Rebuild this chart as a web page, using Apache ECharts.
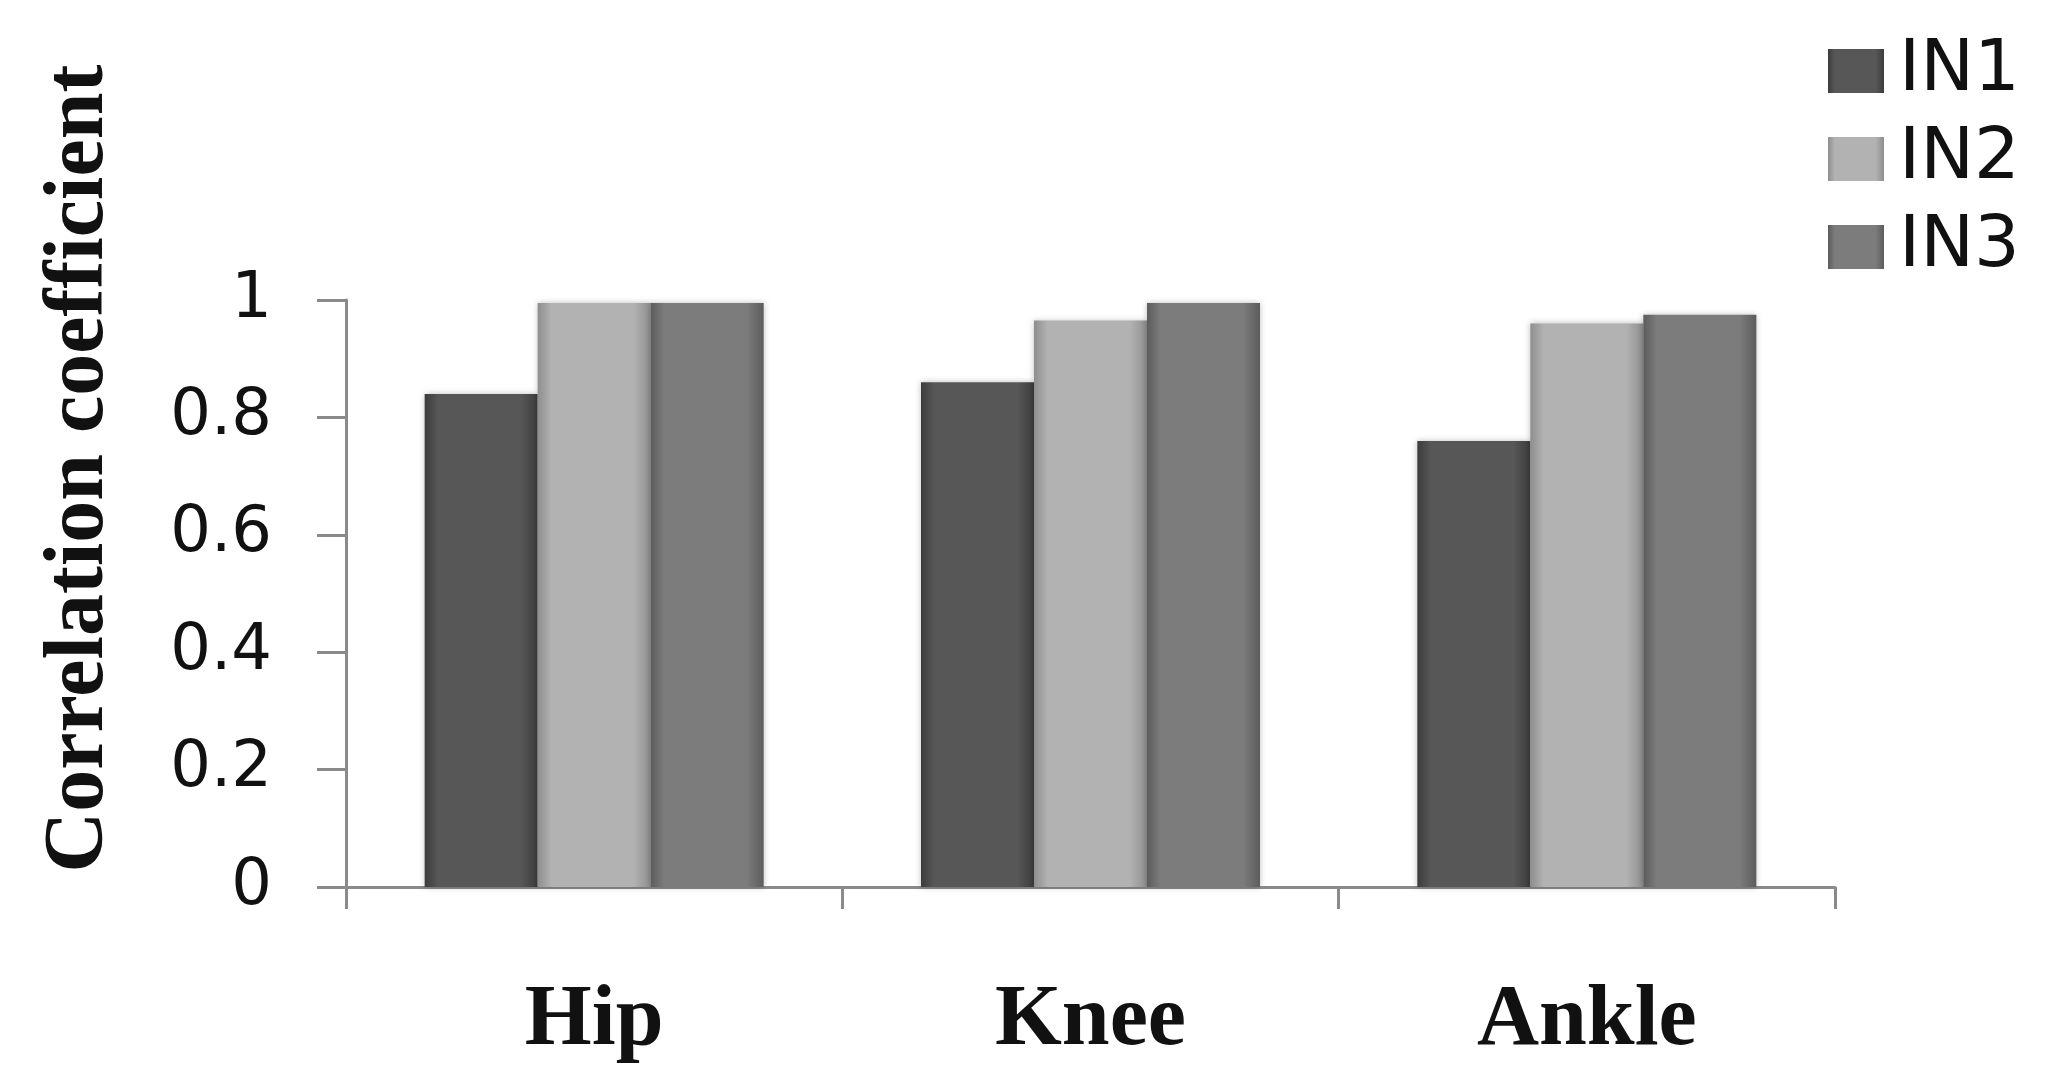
<!DOCTYPE html>
<html>
<head>
<meta charset="utf-8">
<script src="https://cdn.jsdelivr.net/npm/echarts@6/dist/echarts.min.js"></script>
<style>
  html, body { margin: 0; padding: 0; background: #fff; }
  #chart { width: 2070px; height: 1077px; }
</style>
</head>
<body>
<div id="chart"></div>
<script>
const categories = ['Hip', 'Knee', 'Ankle'];
const seriesNames = ['IN1', 'IN2', 'IN3'];
const in1Values = [0.84, 0.86, 0.76];
const in2Values = [0.995, 0.965, 0.96];
const in3Values = [0.995, 0.995, 0.975];
const yTicks = { min: 0, max: 1, interval: 0.2 };

const chart = echarts.init(document.getElementById('chart'));

// shaded grey bars, darker towards the edges
function shade(edge, mid) {
  return new echarts.graphic.LinearGradient(0, 0, 1, 0, [
    { offset: 0, color: edge },
    { offset: 0.12, color: mid },
    { offset: 0.85, color: mid },
    { offset: 1, color: edge }
  ]);
}

const palette = [
  shade('#3c3c3c', '#575757'),
  shade('#8e8e8e', '#b2b2b2'),
  shade('#5c5c5c', '#7c7c7c')
];

const values = [in1Values, in2Values, in3Values];

const series = seriesNames.map((name, i) => ({
  name: name,
  type: 'bar',
  data: values[i],
  barWidth: 113,
  barGap: '0%',
  itemStyle: {
    color: palette[i],
    shadowBlur: 6,
    shadowColor: 'rgba(0,0,0,0.25)'
  }
}));

const axisGrey = '#8a8a8a';

const option = {
  backgroundColor: '#fff',
  animation: false,
  legend: {
    orient: 'vertical',
    left: 1823,
    top: 30,
    itemWidth: 56,
    itemHeight: 44,
    itemGap: 16,
    icon: 'rect',
    textStyle: {
      fontFamily: 'DejaVu Sans',
      fontSize: 72,
      lineHeight: 70,
      color: '#111',
      padding: [0, 0, 0, 10]
    },
    data: seriesNames
  },
  grid: {
    left: 346,
    right: 235,
    top: 300,
    bottom: 190
  },
  xAxis: {
    type: 'category',
    data: categories,
    axisLine: { lineStyle: { color: axisGrey, width: 3 } },
    axisTick: { show: true, length: 22, lineStyle: { color: axisGrey, width: 3 } },
    axisLabel: {
      margin: 92,
      fontFamily: 'Liberation Serif',
      fontWeight: 'bold',
      fontSize: 86,
      color: '#111'
    }
  },
  yAxis: {
    type: 'value',
    min: yTicks.min,
    max: yTicks.max,
    interval: yTicks.interval,
    name: 'Correlation coefficient',
    nameLocation: 'middle',
    nameGap: 224,
    nameTextStyle: {
      fontFamily: 'Liberation Serif',
      fontWeight: 'bold',
      fontSize: 84,
      color: '#111',
      padding: [0, 0, 0, 250]
    },
    axisLine: { show: true, lineStyle: { color: axisGrey, width: 3 } },
    axisTick: { show: true, length: 29, lineStyle: { color: axisGrey, width: 3 } },
    splitLine: { show: false },
    axisLabel: {
      margin: 74,
      fontFamily: 'DejaVu Sans',
      fontSize: 64,
      color: '#111'
    }
  },
  series: series
};

chart.setOption(option);
</script>
</body>
</html>
